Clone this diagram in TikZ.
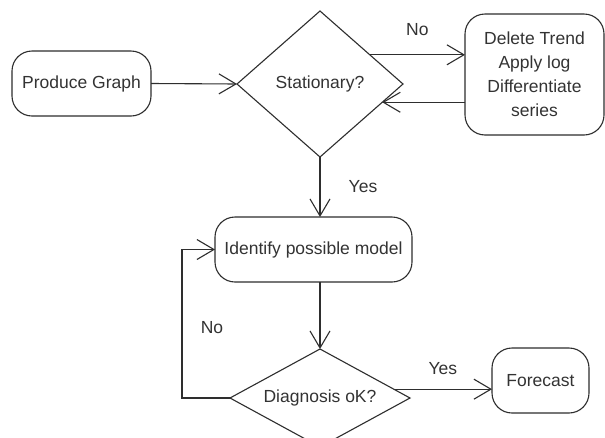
\documentclass[tikz,border=0pt]{standalone}
\usepackage{fontspec}
\setmainfont{Liberation Sans}
\usetikzlibrary{shapes.geometric,arrows.meta,calc}
\definecolor{ink}{HTML}{2E2E2E}
\definecolor{txt}{HTML}{333333}
\tikzset{
  every node/.style={font=\fontsize{17.5}{24}\selectfont, text=txt},
  box/.style={draw=ink, line width=1.1pt, rounded corners=20pt, inner sep=0pt, outer sep=0pt, align=center},
  decision/.style={draw=ink, line width=1.1pt, diamond, aspect=2, inner sep=0pt, outer sep=0pt},
  arr/.style={draw=ink, line width=1.1pt, -{Straight Barb[length=17pt,width=20pt]}},
  lbl/.style={inner sep=0pt}
}
\begin{document}
\begin{tikzpicture}[x=1pt,y=1pt]
  \clip (0,0) rectangle (605,-437);
  \fill[white] (0,0) rectangle (605,-437);

  % nodes
  \node[box, minimum width=139pt, minimum height=65pt] (prod) at (81.5,-83.5) {Produce Graph};
  \node[decision, minimum width=166pt, minimum height=146pt] (stat) at (320,-84) {Stationary?};
  \node[box, minimum width=139pt, minimum height=121pt] (del) at (534.5,-74.5)
       {Delete Trend\\Apply log\\Differentiate\\series};
  \node[box, minimum width=197pt, minimum height=65pt] (ident) at (313.5,-249.5) {Identify possible model};
  \node[decision, minimum width=180pt, minimum height=98pt] (diag) at (320,-398) {Diagnosis oK?};
  \node[box, minimum width=97pt, minimum height=65pt] (fore) at (540.5,-380.5) {Forecast};

  % helper points on the diamond edges
  \coordinate (s1) at ($(stat.north)!0.6!(stat.east)$);
  \coordinate (s2) at ($(stat.east)!0.25!(stat.south)$);
  \coordinate (d1) at ($(diag.east)!0.18!(diag.north)$);

  % connectors
  \draw[arr] (prod.east) -- (stat.west);
  \draw[arr] (s1) -- (s1 -| del.west) node[lbl, midway, yshift=25pt] {No};
  \draw[arr] (s2 -| del.west) -- (s2);
  \draw[arr] (stat.south) -- (stat.south |- ident.north) node[lbl, midway, xshift=43pt] {Yes};
  \draw[arr] (diag.north |- ident.south) -- (diag.north);
  \draw[arr] (diag.west) -- ++(-48,0) coordinate (l1) |- (ident.west);
  \node[lbl] (nolbl) at (212,-328) {No};
  \draw[arr] (d1) -- (d1 -| fore.west) node[lbl, midway, yshift=21pt] {Yes};
\end{tikzpicture}
\end{document}
